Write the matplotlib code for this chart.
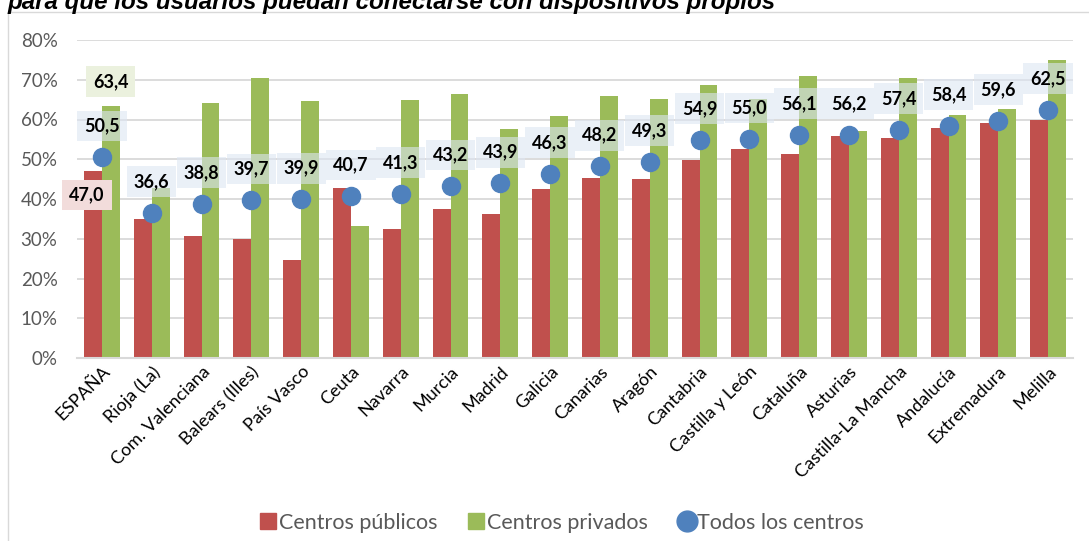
import numpy as np
import matplotlib
matplotlib.use("Agg")
import matplotlib.pyplot as plt
from matplotlib.patches import Rectangle
from matplotlib.lines import Line2D

# Data
regiones = ["ESPAÑA", "Rioja (La)", "Com. Valenciana", "Balears (Illes)", "País Vasco",
            "Ceuta", "Navarra", "Murcia", "Madrid", "Galicia", "Canarias", "Aragón",
            "Cantabria", "Castilla y León", "Cataluña", "Asturias", "Castilla-La Mancha",
            "Andalucía", "Extremadura", "Melilla"]
publicos = [47.0, 34.9, 30.8, 29.9, 24.7, 42.8, 32.4, 37.6, 36.3, 42.6,
            45.3, 45.0, 49.9, 52.5, 51.3, 55.9, 55.3, 57.9, 59.0, 60.0]
privados = [63.4, 42.7, 64.2, 70.4, 64.6, 33.2, 65.0, 66.3, 57.6, 60.9,
            65.9, 65.2, 68.8, 65.1, 70.9, 57.1, 70.4, 61.1, 62.6, 74.9]
todos = [50.5, 36.6, 38.8, 39.7, 39.9, 40.7, 41.3, 43.2, 43.9, 46.3,
         48.2, 49.3, 54.9, 55.0, 56.1, 56.2, 57.4, 58.4, 59.6, 62.5]

rojo = "#c0504d"
verde = "#9bbb59"
azul = "#4f81bd"
gris = "#595959"

plt.rcParams['font.family'] = ['Lato', 'DejaVu Sans']

fig = plt.figure(figsize=(10.89, 5.41), dpi=100)
ax = fig.add_axes([77 / 1089, 1 - 358 / 541, (1073 - 77) / 1089, (358 - 40) / 541])

x = np.arange(len(regiones))
w = 0.36
ax.bar(x - w / 2, publicos, w, color=rojo, zorder=2)
ax.bar(x + w / 2, privados, w, color=verde, zorder=2)
ax.plot(x, todos, 'o', color=azul, ms=13, zorder=4)

def fmt(v):
    return f"{v:.1f}".replace(".", ",")

for xi, v in zip(x, todos):
    ax.annotate(fmt(v), (xi, v), xytext=(0, 22.5), textcoords="offset points",
                ha="center", va="center", fontsize=13, fontweight="bold", zorder=5,
                bbox=dict(boxstyle="square,pad=0.38", fc="#dce6f2", ec="none", alpha=0.6))

# etiquetas de las barras de ESPAÑA
ax.text(0.18, 69.6, fmt(privados[0]), ha="center", va="center", fontsize=13,
        fontweight="bold", zorder=5,
        bbox=dict(boxstyle="square,pad=0.38", fc="#ebf1de", ec="none"))
ax.text(-0.3, 41.0, fmt(publicos[0]), ha="center", va="center", fontsize=13,
        fontweight="bold", zorder=5,
        bbox=dict(boxstyle="square,pad=0.38", fc="#f2dcdb", ec="none"))

ax.set_xlim(-0.5, len(regiones) - 0.5)
ax.set_ylim(0, 80)
ax.set_yticks(range(0, 81, 10))
ax.set_yticklabels([f"{t}%" for t in range(0, 81, 10)])
ax.yaxis.grid(True, color="#d9d9d9", lw=1.3, zorder=0)
ax.set_axisbelow(True)
for s in ["top", "right", "left"]:
    ax.spines[s].set_visible(False)
ax.spines["bottom"].set_color("#d9d9d9")
ax.spines["bottom"].set_linewidth(1.5)
ax.tick_params(axis="y", length=0, pad=14, labelsize=13.5, labelcolor=gris)
ax.tick_params(axis="x", length=0, pad=4, labelsize=13, labelcolor="black")
ax.set_xticks(x)
ax.set_xticklabels(regiones, rotation=45, ha="right", va="top", rotation_mode="anchor")

# leyenda
handles = [Line2D([], [], marker="s", ls="", color=rojo, ms=12),
           Line2D([], [], marker="s", ls="", color=verde, ms=12),
           Line2D([], [], marker="o", ls="", color=azul, ms=15)]
fig.legend(handles, ["Centros públicos", "Centros privados", "Todos los centros"],
           loc="center", bbox_to_anchor=(0.515, 1 - 523 / 541), ncol=3, frameon=False,
           fontsize=15.5, labelcolor=gris, handletextpad=0.0, columnspacing=1.3,
           handlelength=1.0)

# marco del gráfico
fig.patches.append(Rectangle((8 / 1089, -0.1), 1.2, (541 - 12) / 541 + 0.1,
                             transform=fig.transFigure, fill=False, ec="#d9d9d9", lw=1))

fig.text(8 / 1089, 1 - 9 / 541, "para que los usuarios puedan conectarse con dispositivos propios",
         ha="left", va="baseline", fontsize=17.4, fontweight="bold", fontstyle="italic",
         family=["Liberation Sans", "DejaVu Sans"])

fig.savefig("out.png", dpi=100)
